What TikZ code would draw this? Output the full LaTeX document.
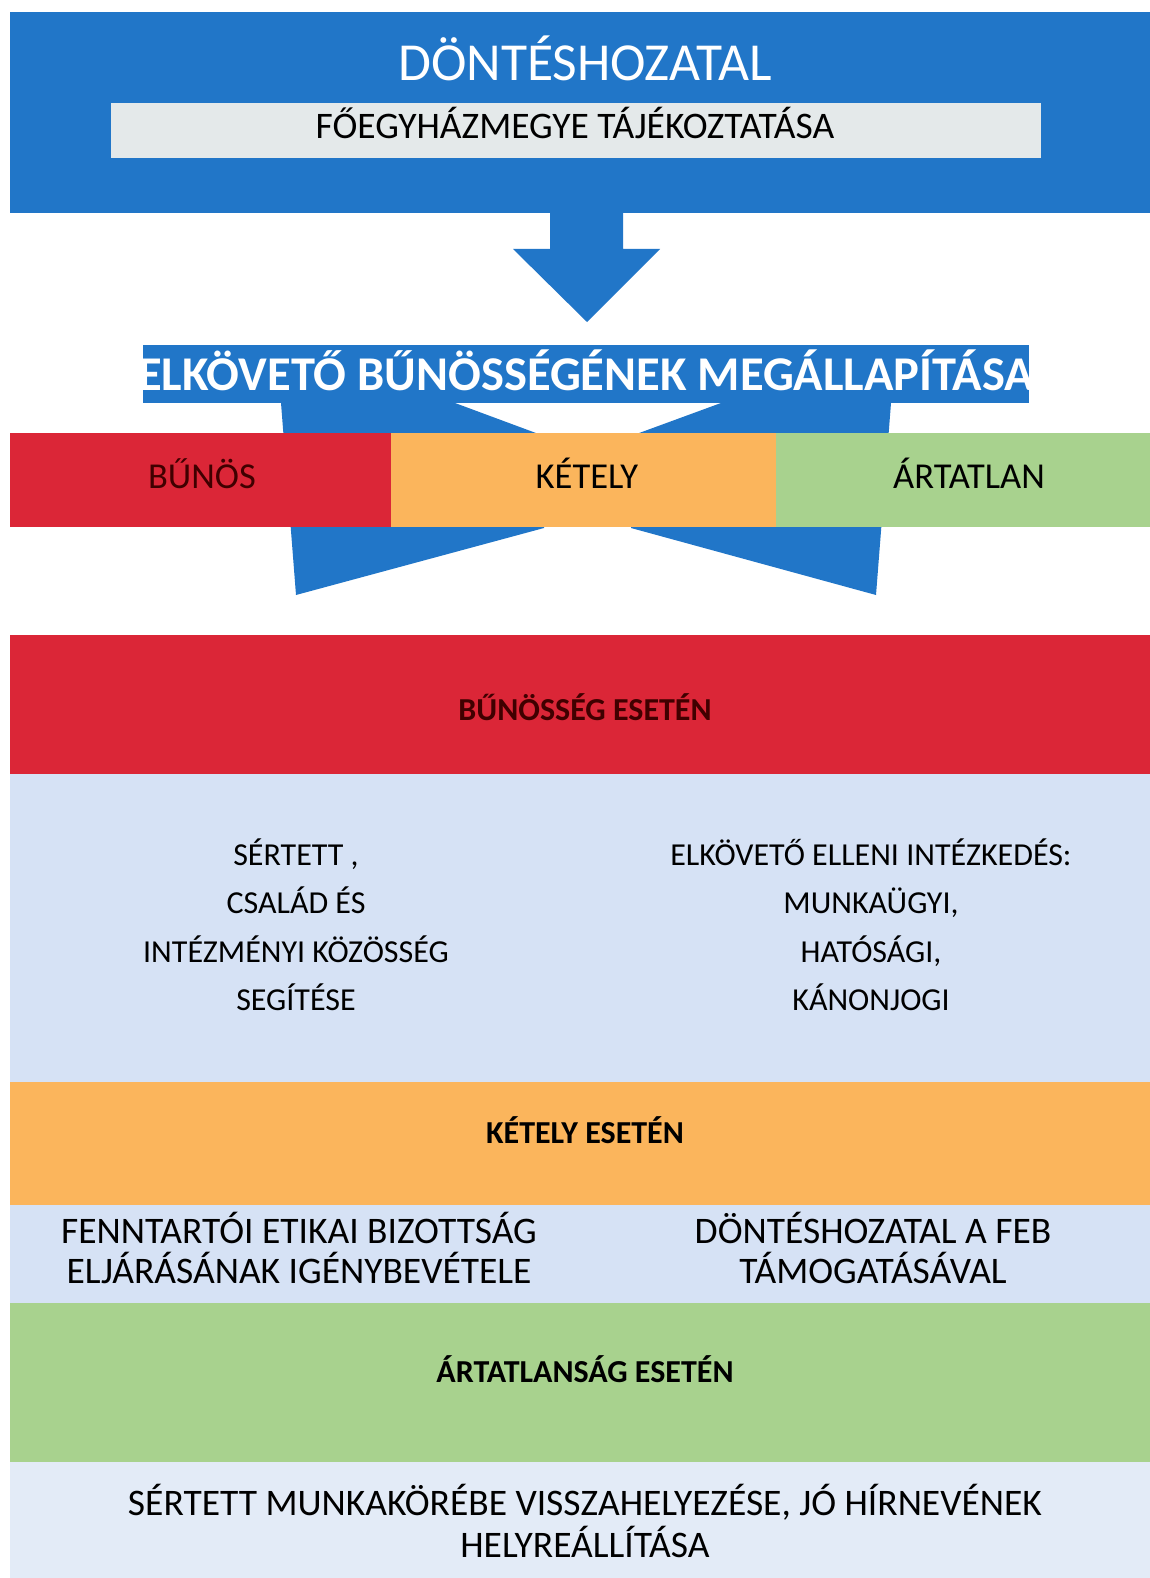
\documentclass[tikz,border=0pt]{standalone}
\usepackage{fontspec}
\setmainfont{Carlito}
\usepackage{xcolor}
\usetikzlibrary{positioning}
\definecolor{dkblue}{RGB}{33,118,200}
\definecolor{dkred}{RGB}{219,38,55}
\definecolor{orng}{RGB}{251,181,92}
\definecolor{lgreen}{RGB}{168,210,142}
\definecolor{lblue}{RGB}{214,226,245}
\definecolor{lgrey}{RGB}{228,233,234}
\definecolor{pale}{RGB}{227,235,247}
\newcommand{\pxsize}[1]{\fontsize{#1}{#1}\selectfont}
\tikzstyle{band}=[inner sep=0, anchor=north west]
\tikzstyle{txt}=[inner sep=0, anchor=base]
\tikzstyle{hd}=[txt, font=\pxsize{32}\bfseries]
\tikzstyle{col}=[txt, font=\pxsize{32}]
\tikzstyle{big}=[txt, font=\pxsize{37.5}]

\begin{document}
\begin{tikzpicture}[x=1pt,y=-1pt]
    \useasboundingbox[fill=white] (0,0) rectangle (1150,1578);
    % top part
    \node[band, fill=dkblue, minimum width=1140, minimum height=201] (top) at (10,12) {};
    \node[band, fill=lgrey, minimum width=930, minimum height=55] (info) at (111,103) {};
    \node[txt, text=white, font=\pxsize{53.5}] (title) at (585,81) {DÖNTÉSHOZATAL};
    \node[txt, font=\pxsize{37.5}] (infotxt) at (575,139) {FŐEGYHÁZMEGYE TÁJÉKOZTATÁSA};
    \fill[dkblue] (550,212) -- (623,212) -- (623,249) -- (660,249) -- (587,322)
        -- (513,249) -- (550,249) -- cycle;
    % split arrows
    \fill[dkblue] (281,403) -- (455,403) -- (544,436) -- (544,528) -- (296,595) -- cycle;
    \fill[dkblue] (891,403) -- (721,403) -- (631,436) -- (631,528) -- (876,595) -- cycle;
    \node[band, fill=dkblue, minimum width=886, minimum height=58] (guilt) at (143,345) {};
    \node[txt, text=white, font=\pxsize{48.5}\bfseries] (guilttxt) at (586,390) {ELKÖVETŐ BŰNÖSSÉGÉNEK MEGÁLLAPÍTÁSA};
    % verdict strip
    \node[band, fill=dkred, minimum width=381, minimum height=94] (sred) at (10,433) {};
    \node[band, fill=orng, minimum width=385, minimum height=94] (sorng) at (391,433) {};
    \node[band, fill=lgreen, minimum width=374, minimum height=94] (sgreen) at (776,433) {};
    \node[txt, text=black!75!red, font=\pxsize{36.5}] (bunos) at (202,488) {BŰNÖS};
    \node[txt, font=\pxsize{36.5}] (ketely) at (587,488) {KÉTELY};
    \node[txt, font=\pxsize{36.5}] (artatlan) at (969,488) {ÁRTATLAN};
    % cases
    \node[band, fill=dkred, minimum width=1140, minimum height=139] (bred) at (10,635) {};
    \node[band, fill=lblue, minimum width=1140, minimum height=308] (bblue1) at (10,774) {};
    \node[band, fill=orng, minimum width=1140, minimum height=123] (borng) at (10,1082) {};
    \node[band, fill=lblue, minimum width=1140, minimum height=98] (bblue2) at (10,1205) {};
    \node[band, fill=lgreen, minimum width=1140, minimum height=159] (bgreen) at (10,1303) {};
    \node[band, fill=pale, minimum width=1140, minimum height=116] (bpale) at (10,1462) {};
    \node[hd, text=black!75!red] (h1) at (585,720) {BŰNÖSSÉG ESETÉN};
    \node[col] (l1) at (296,865) {SÉRTETT ,};
    \node[col] (l2) at (296,913) {CSALÁD ÉS};
    \node[col] (l3) at (296,962) {INTÉZMÉNYI KÖZÖSSÉG};
    \node[col] (l4) at (296,1010) {SEGÍTÉSE};
    \node[col] (r1) at (871,865) {ELKÖVETŐ ELLENI INTÉZKEDÉS:};
    \node[col] (r2) at (871,913) {MUNKAÜGYI,};
    \node[col] (r3) at (871,962) {HATÓSÁGI,};
    \node[col] (r4) at (871,1010) {KÁNONJOGI};
    \node[hd] (h2) at (585,1143) {KÉTELY ESETÉN};
    \node[big] (fl1) at (299,1243) {FENNTARTÓI ETIKAI BIZOTTSÁG};
    \node[big] (fl2) at (299,1283) {ELJÁRÁSÁNAK IGÉNYBEVÉTELE};
    \node[big] (fr1) at (873,1243) {DÖNTÉSHOZATAL A FEB};
    \node[big] (fr2) at (873,1283) {TÁMOGATÁSÁVAL};
    \node[hd] (h3) at (585,1382) {ÁRTATLANSÁG ESETÉN};
    \node[big] (b1) at (585,1515) {SÉRTETT MUNKAKÖRÉBE VISSZAHELYEZÉSE, JÓ HÍRNEVÉNEK};
    \node[big] (b2) at (585,1557) {HELYREÁLLÍTÁSA};
\end{tikzpicture}
\end{document}
